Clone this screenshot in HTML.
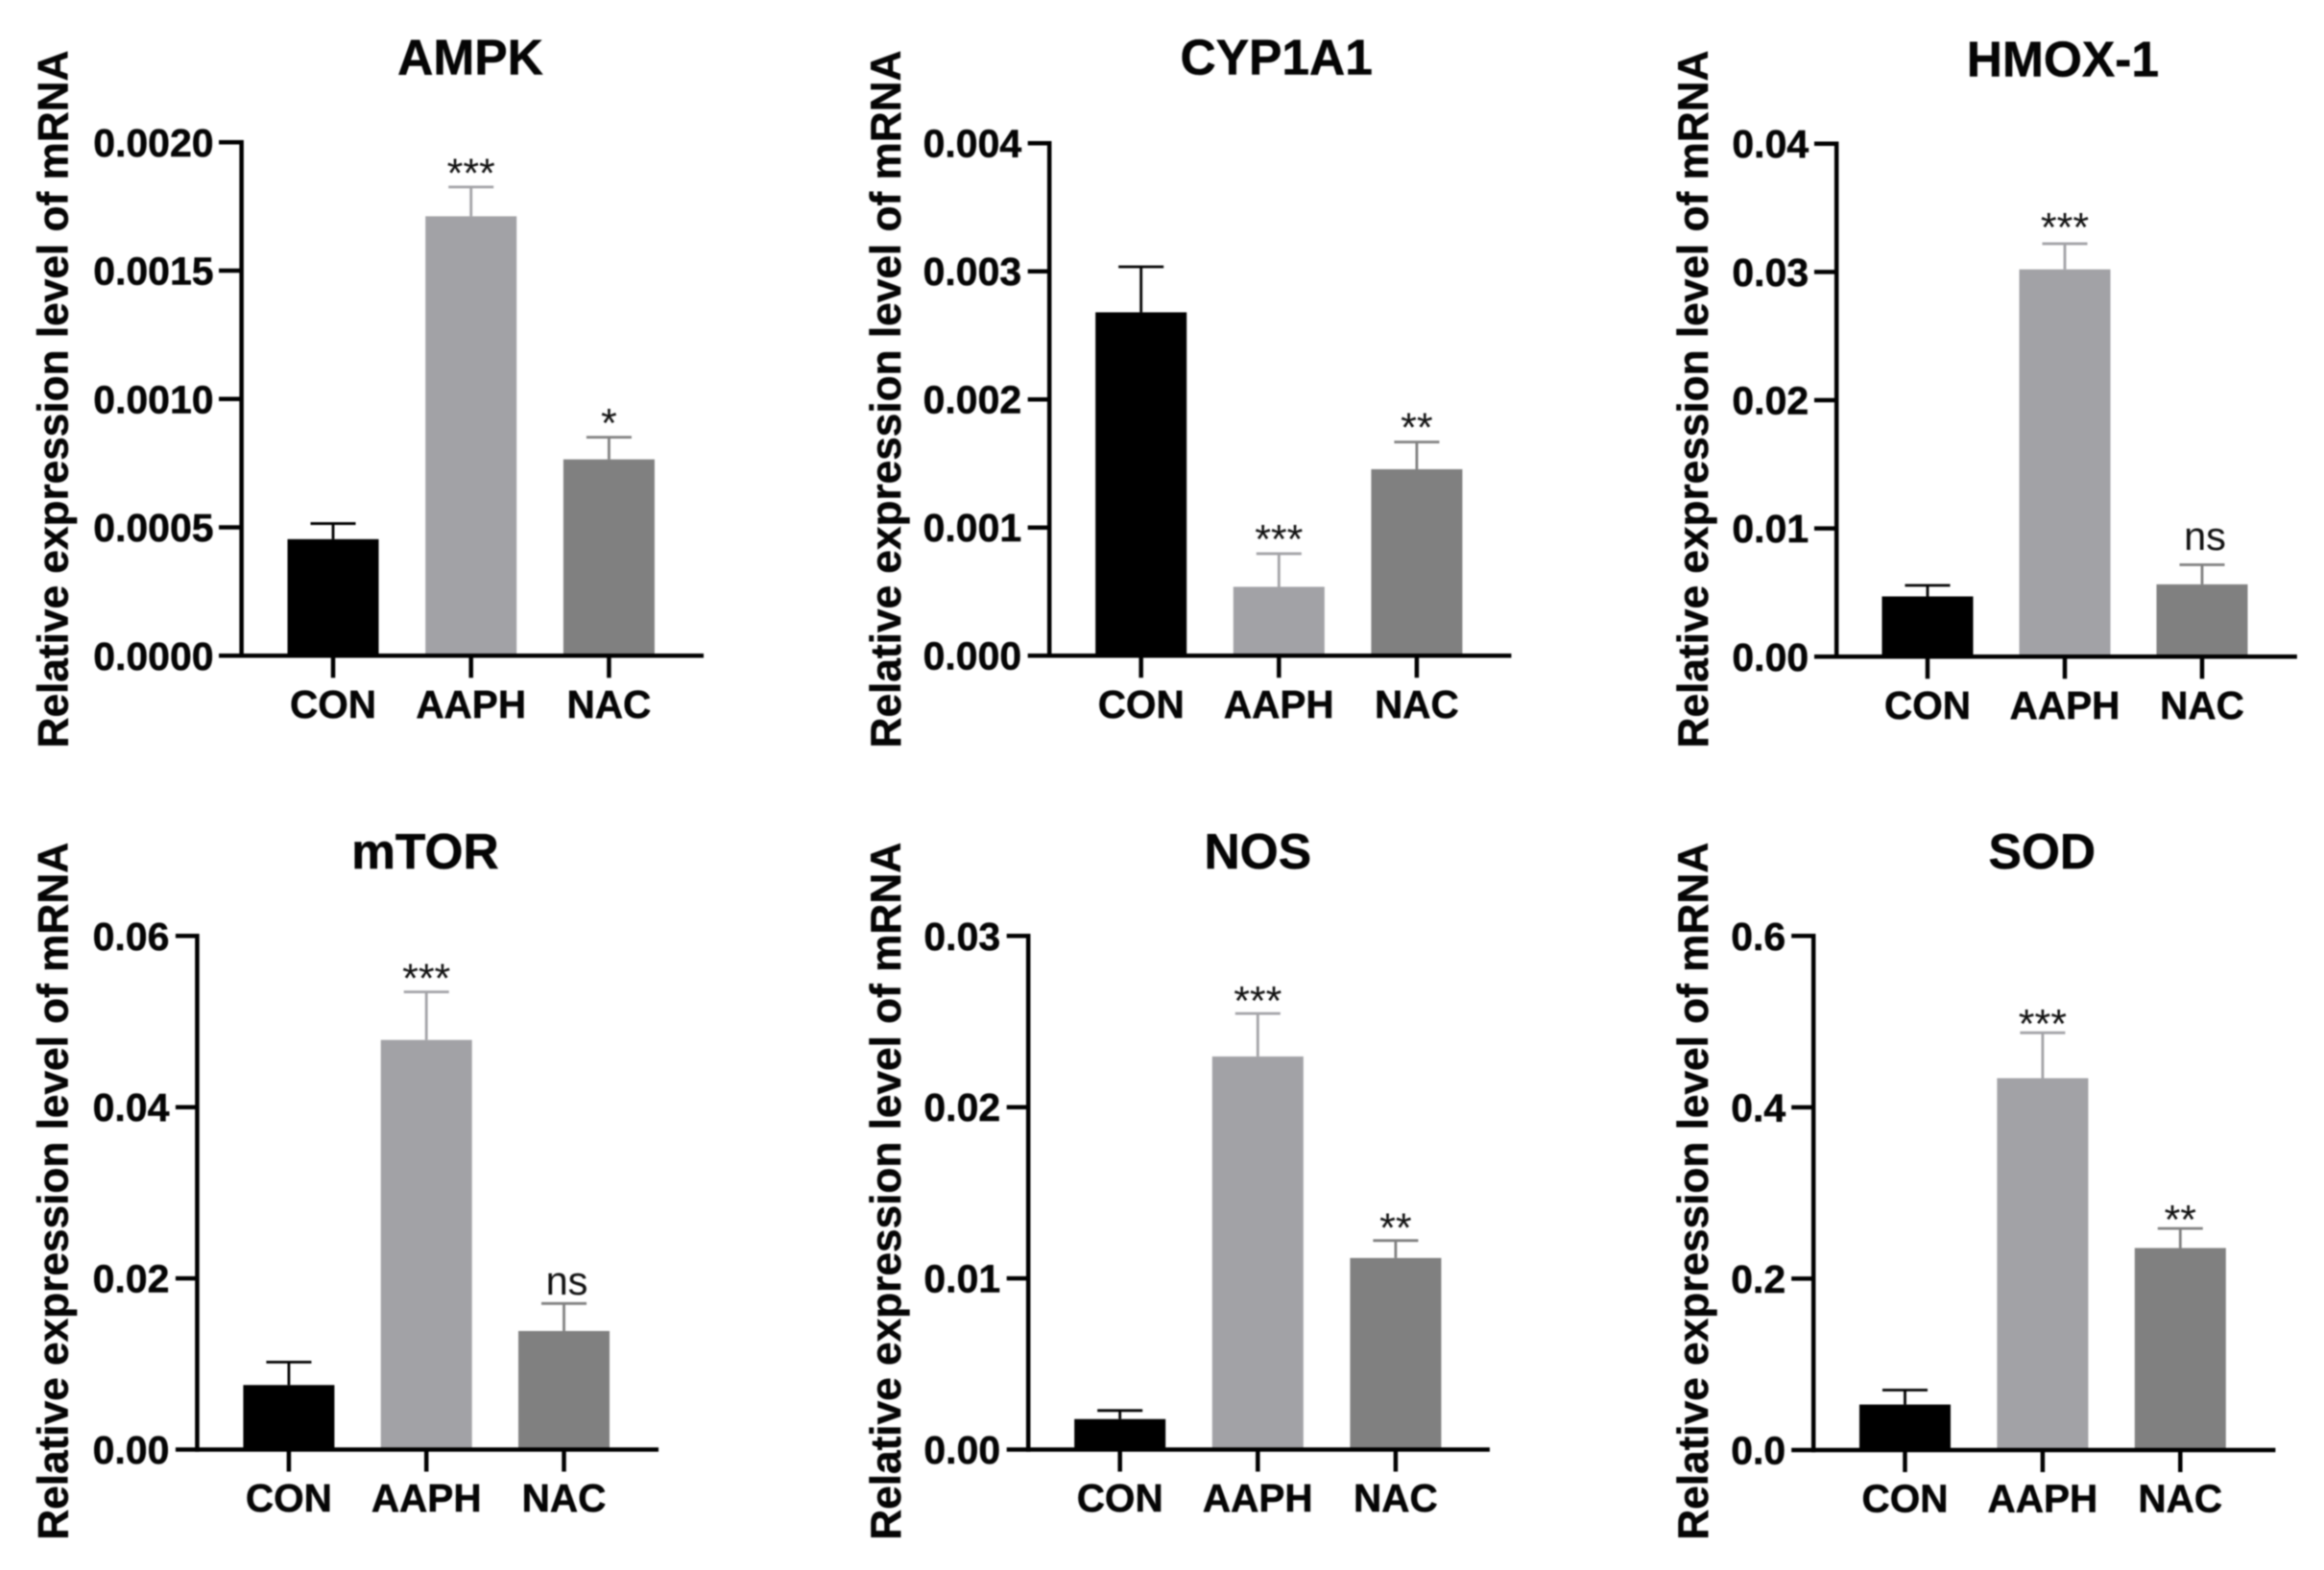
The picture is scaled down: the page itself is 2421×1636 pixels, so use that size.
<!DOCTYPE html>
<html lang="en">
<head>
<meta charset="utf-8">
<title>Relative mRNA expression</title>
<style>
  html, body { margin: 0; padding: 0; background: #fff; }
  #figure { display: block; width: 2421px; height: 1636px; filter: blur(0.75px); font-family: "Liberation Sans", Arial, sans-serif; }
</style>
</head>
<body>
<svg id="figure" xmlns="http://www.w3.org/2000/svg" width="2421" height="1636" viewBox="0 0 2421 1636"></svg>
<script>
// ---- data ----
const categories = ['CON', 'AAPH', 'NAC'];

const ampkTicks = ['0.0000', '0.0005', '0.0010', '0.0015', '0.0020'];
const ampkMeans = [0.000454, 0.001712, 0.000765];
const ampkUppers = [0.000515, 0.001826, 0.000851];
const ampkSig = ['', '***', '*'];

const cypTicks = ['0.000', '0.001', '0.002', '0.003', '0.004'];
const cypMeans = [0.00268, 0.000537, 0.001455];
const cypUppers = [0.003035, 0.000796, 0.001667];
const cypSig = ['', '***', '**'];

const hmoxTicks = ['0.00', '0.01', '0.02', '0.03', '0.04'];
const hmoxMeans = [0.0047, 0.0302, 0.00564];
const hmoxUppers = [0.00556, 0.0322, 0.00717];
const hmoxSig = ['', '***', 'ns'];

const mtorTicks = ['0.00', '0.02', '0.04', '0.06'];
const mtorMeans = [0.00754, 0.04785, 0.01385];
const mtorUppers = [0.01022, 0.05346, 0.01706];
const mtorSig = ['', '***', 'ns'];

const nosTicks = ['0.00', '0.01', '0.02', '0.03'];
const nosMeans = [0.00178, 0.02296, 0.01119];
const nosUppers = [0.00228, 0.02547, 0.01221];
const nosSig = ['', '***', '**'];

const sodTicks = ['0.0', '0.2', '0.4', '0.6'];
const sodMeans = [0.0531, 0.434, 0.2358];
const sodUppers = [0.07, 0.487, 0.2586];
const sodSig = ['', '***', '**'];

const barColors = ['#000000', '#a2a2a6', '#808080'];

const panels = [
  { key: 'ampk', title: 'AMPK', titleX: 490, titleY: 77.4, ticks: ampkTicks, means: ampkMeans, uppers: ampkUppers, sig: ampkSig,
    axisX: 251.6, tickLeft: 228, right: 733, top: 148.3, base: 683.3, first: 347, step: 143.7, yTitleX: 70.7, yTitleY: 416, starGap: 19.5, nsGap: 12 },
  { key: 'cyp1a1', title: 'CYP1A1', titleX: 1329.7, titleY: 77.5, ticks: cypTicks, means: cypMeans, uppers: cypUppers, sig: cypSig,
    axisX: 1093.2, tickLeft: 1070.7, right: 1574.4, top: 149.2, base: 683.2, first: 1188.7, step: 143.6, yTitleX: 937.9, yTitleY: 416, starGap: 20, nsGap: 12 },
  { key: 'hmox1', title: 'HMOX-1', titleX: 2148.9, titleY: 79.6, ticks: hmoxTicks, means: hmoxMeans, uppers: hmoxUppers, sig: hmoxSig,
    axisX: 1913.2, tickLeft: 1890, right: 2392.9, top: 149.7, base: 684.3, first: 2008, step: 143, yTitleX: 1779.2, yTitleY: 416, starGap: 22, nsGap: 15.5 },
  { key: 'mtor', title: 'mTOR', titleX: 442.9, titleY: 904.9, ticks: mtorTicks, means: mtorMeans, uppers: mtorUppers, sig: mtorSig,
    axisX: 205.4, tickLeft: 182.9, right: 686, top: 975.3, base: 1510.5, first: 300.9, step: 143.3, yTitleX: 70.7, yTitleY: 1241.3, starGap: 19.3, nsGap: 9.5 },
  { key: 'nos', title: 'NOS', titleX: 1310.3, titleY: 904.9, ticks: nosTicks, means: nosMeans, uppers: nosUppers, sig: nosSig,
    axisX: 1071.2, tickLeft: 1048.7, right: 1551.9, top: 975.3, base: 1510.5, first: 1166.7, step: 143.6, yTitleX: 937.9, yTitleY: 1241.3, starGap: 18, nsGap: 12 },
  { key: 'sod', title: 'SOD', titleX: 2127.3, titleY: 904.9, ticks: sodTicks, means: sodMeans, uppers: sodUppers, sig: sodSig,
    axisX: 1889.2, tickLeft: 1866.2, right: 2370.4, top: 975.3, base: 1511, first: 1984.5, step: 143.4, yTitleX: 1779.2, yTitleY: 1241.3, starGap: 14, nsGap: 12 }
];

// ---- drawing ----
const SVG_NS = 'http://www.w3.org/2000/svg';
const figure = document.getElementById('figure');

function make(tag, attrs, parent, text) {
  const node = document.createElementNS(SVG_NS, tag);
  Object.keys(attrs).forEach(function (k) { node.setAttribute(k, attrs[k]); });
  if (text !== undefined) node.textContent = text;
  parent.appendChild(node);
  return node;
}

const boldInk = { 'font-weight': 700, fill: '#050505', stroke: '#050505', 'stroke-width': 0.5 };

panels.forEach(function (p) {
  const group = make('g', {}, figure);
  
  

  const yMax = parseFloat(p.ticks[p.ticks.length - 1]);
  const yScale = function (v) { return p.base - (v / yMax) * (p.base - p.top); };
  const xScale = function (i) { return p.first + i * p.step; };

  const title = make('text', Object.assign({ x: p.titleX, y: p.titleY, 'text-anchor': 'middle', 'font-size': 51.5 }, boldInk), group, p.title);
  
  

  const yTitle = make('text', Object.assign({ x: 0, y: 0, transform: 'translate(' + p.yTitleX + ' ' + p.yTitleY + ') rotate(-90)', 'text-anchor': 'middle', 'font-size': 44.2 }, boldInk), group, 'Relative expression level of mRNA');
  
  

  categories.forEach(function (cat, i) {
    const cx = xScale(i);
    const barTop = yScale(p.means[i]);
    const errTop = yScale(p.uppers[i]);

    const errLine = make('line', { x1: cx, x2: cx, y1: errTop, y2: barTop, stroke: barColors[i], 'stroke-width': 2.8 }, group);
    
    

    const errCap = make('line', { x1: cx - 23.5, x2: cx + 23.5, y1: errTop, y2: errTop, stroke: barColors[i], 'stroke-width': 2.8 }, group);
    
    

    const bar = make('rect', { x: cx - 47.5, y: barTop, width: 95, height: p.base - barTop, fill: barColors[i] }, group);
    
    

    const label = p.sig[i];
    if (label === 'ns') {
      const ns = make('text', { x: cx + 3, y: errTop - p.nsGap, 'text-anchor': 'middle', 'font-size': 41.5, fill: '#111' }, group, label);
      
      
    } else if (label) {
      const stars = make('text', { x: cx, y: errTop + 19.5 - p.starGap, 'text-anchor': 'middle', 'font-size': 43, fill: '#111' }, group, label);
      
      
    }

    const xTick = make('line', { x1: cx, x2: cx, y1: p.base, y2: p.base + 23, stroke: '#000', 'stroke-width': 4.5 }, group);
    
    

    const xLabel = make('text', Object.assign({ x: cx, y: p.base + 64.7, 'text-anchor': 'middle', 'font-size': 40.5 }, boldInk), group, cat);
    
    
  });

  p.ticks.forEach(function (t) {
    const ty = yScale(parseFloat(t));
    const yTick = make('line', { x1: p.tickLeft, x2: p.axisX, y1: ty, y2: ty, stroke: '#000', 'stroke-width': 4.5 }, group);
    
    

    const yLabel = make('text', Object.assign({ x: p.axisX - 29, y: ty + 14.5, 'text-anchor': 'end', 'font-size': 41 }, boldInk), group, t);
    
    
  });

  const yAxis = make('line', { x1: p.axisX, x2: p.axisX, y1: p.top - 2.25, y2: p.base + 2.25, stroke: '#000', 'stroke-width': 4.5 }, group);
  
  

  const xAxis = make('line', { x1: p.axisX, x2: p.right, y1: p.base, y2: p.base, stroke: '#000', 'stroke-width': 4.5 }, group);
  
  
});
</script>
</body>
</html>
